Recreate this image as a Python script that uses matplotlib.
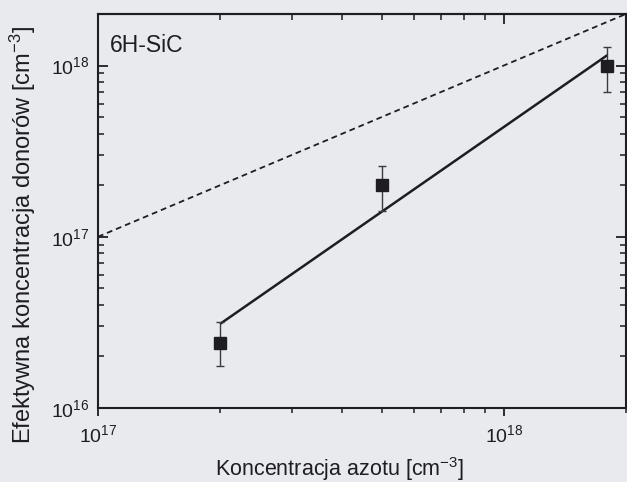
import matplotlib
matplotlib.use("Agg")
import matplotlib.pyplot as plt
import numpy as np
from matplotlib.ticker import LogLocator, NullFormatter, FixedLocator, FixedFormatter

plt.rcParams['font.family'] = ['Liberation Sans', 'DejaVu Sans']
plt.rcParams['mathtext.fontset'] = 'custom'
plt.rcParams['mathtext.rm'] = 'Liberation Sans'
plt.rcParams['mathtext.it'] = 'Liberation Sans:italic'
plt.rcParams['mathtext.bf'] = 'Liberation Sans:bold'

# Measured points: nitrogen concentration vs effective donor concentration
nitrogen = [2e17, 5e17, 1.8e18]
donors = [2.4e16, 2.0e17, 1.0e18]
err_low = [1.75e16, 1.42e17, 7.0e17]
err_high = [3.2e16, 2.6e17, 1.29e18]

# Fitted trend and the N_D = N reference line
fit_x = [2e17, 1.8e18]
fit_y = [3.1e16, 1.15e18]
ref_x = [1e17, 2e18]
ref_y = [1e17, 2e18]

x_ticks = [1e17, 1e18]
x_tick_labels = [r'$10^{17}$', r'$10^{18}$']
y_ticks = [1e16, 1e17, 1e18]
y_tick_labels = [r'$10^{16}$', r'$10^{17}$', r'$10^{18}$']

bg = '#e9eaee'
ink = '#1e1e22'

fig = plt.figure(figsize=(6.27, 4.82), dpi=100, facecolor=bg)
ax = fig.add_axes([0.1563, 0.1535, 0.842, 0.8175], facecolor=bg)

ax.set_xscale('log')
ax.set_yscale('log')
ax.set_xlim(1e17, 2e18)
ax.set_ylim(1e16, 2e18)

ax.plot(ref_x, ref_y, linestyle=(0, (3.2, 2.2)), color=ink, lw=1.3)
ax.plot(fit_x, fit_y, color=ink, lw=1.8, solid_capstyle='butt')

yerr = [np.array(donors) - np.array(err_low), np.array(err_high) - np.array(donors)]
ax.errorbar(nitrogen, donors, yerr=yerr, fmt='s', color=ink, ms=8,
            ecolor='#3a3a40', elinewidth=1.0, capsize=3, capthick=1.0,
            markeredgecolor=ink)

ax.xaxis.set_major_locator(FixedLocator(x_ticks))
ax.xaxis.set_major_formatter(FixedFormatter(x_tick_labels))
ax.yaxis.set_major_locator(FixedLocator(y_ticks))
ax.yaxis.set_major_formatter(FixedFormatter(y_tick_labels))
ax.xaxis.set_minor_locator(LogLocator(base=10, subs=np.arange(2, 10)))
ax.yaxis.set_minor_locator(LogLocator(base=10, subs=np.arange(2, 10)))
ax.xaxis.set_minor_formatter(NullFormatter())
ax.yaxis.set_minor_formatter(NullFormatter())

for s in ax.spines.values():
    s.set_color(ink)
    s.set_linewidth(1.5)

ax.tick_params(axis='x', which='both', direction='out', top=False, colors=ink,
               labelsize=14, pad=6)
ax.tick_params(axis='x', which='major', length=6, width=1.3)
ax.tick_params(axis='x', which='minor', length=3.5, width=1.1)
ax.tick_params(axis='y', which='both', direction='in', right=True, colors=ink,
               labelsize=14, pad=6)
ax.tick_params(axis='y', which='major', length=7, width=1.3)
ax.tick_params(axis='y', which='minor', length=4.5, width=1.1)

# Top axis carries inward ticks only
top = ax.secondary_xaxis('top')
top.set_xscale('log')
top.xaxis.set_major_locator(FixedLocator(x_ticks))
top.xaxis.set_minor_locator(LogLocator(base=10, subs=np.arange(2, 10)))
top.xaxis.set_major_formatter(NullFormatter())
top.xaxis.set_minor_formatter(NullFormatter())
top.tick_params(which='both', direction='in', colors=ink)
top.tick_params(which='major', length=7, width=1.3)
top.tick_params(which='minor', length=4.5, width=1.1)
top.spines['top'].set_linewidth(1.5)
top.spines['top'].set_color(ink)

ax.set_xlabel(r'Koncentracja azotu [cm$^{-3}$]', fontsize=15.5, color=ink, va='center')
ax.xaxis.set_label_coords(0.457, -0.155)
ax.set_ylabel(r'Efektywna koncentracja donorów [cm$^{-3}$]', fontsize=17, color=ink,
              va='center')
ax.yaxis.set_label_coords(-0.142, 0.44)

ax.text(0.023, 0.903, '6H-SiC', transform=ax.transAxes, fontsize=16.5, color=ink,
        va='baseline', ha='left')

fig.savefig('out.png', dpi=100, facecolor=bg)
